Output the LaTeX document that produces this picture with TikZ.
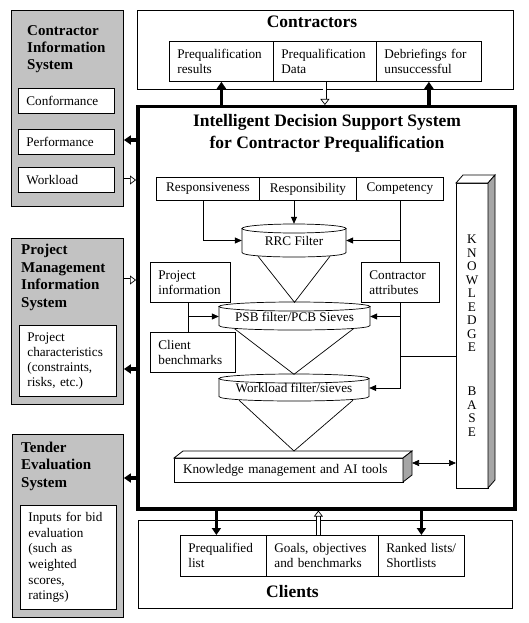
\documentclass[tikz,border=0pt]{standalone}
\usepackage{fontspec}
\setmainfont{Liberation Serif}
\usetikzlibrary{arrows.meta,calc}
\newcommand\cylshape[5]{% cx rx top bottom ry
  \draw[thinln, fill=white] (#1-#2, #3+#5) -- (#1-#2, #4-#5) .. controls (#1-#2, #4+#5/3) and (#1+#2, #4+#5/3) .. (#1+#2, #4-#5) -- (#1+#2, #3+#5) -- cycle;
  \draw[thinln, fill=white] (#1, #3+#5) ellipse [x radius=#2pt, y radius=#5pt];
}
\begin{document}
\begin{tikzpicture}[x=1pt,y=-1pt,
  every node/.style={font=\fontsize{13.2}{15}\selectfont},
  thinln/.style={line width=0.7pt},
  box/.style={draw, line width=0.8pt, fill=white, inner xsep=8pt, inner ysep=0pt, align=left, anchor=north west},
  cbox/.style={draw, line width=0.8pt, fill=white, inner sep=0pt, align=center, anchor=north west},
  outerbox/.style={draw, line width=1pt, inner sep=0pt, anchor=north west},
  graybox/.style={draw, line width=0.9pt, fill=black!24, inner sep=0pt, anchor=north west},
  bigtitle/.style={font=\fontsize{17.5}{21}\selectfont\bfseries, inner sep=0pt},
  sidetitle/.style={font=\fontsize{15}{17.4}\selectfont\bfseries, align=left, anchor=base west, inner sep=0pt},
  cyltext/.style={inner sep=0pt, text height=9pt, text depth=0pt},
  kbl/.style={anchor=base, inner sep=0pt},
  arr/.style={thinln, -{Triangle[length=7pt,width=6pt]}},
  darr/.style={thinln, {Triangle[length=7pt,width=6pt]}-{Triangle[length=7pt,width=6pt]}},
  blackarr/.style={line width=3.5pt, -{Triangle[length=7pt,width=9pt]}},
  hollowarr/.style={double=white, double distance=3pt, line width=0.7pt, -{Triangle[open,length=6pt,width=9pt]}},
  face/.style={draw, line width=0.8pt, fill=white},
  shade/.style={draw, line width=0.8pt, fill=black!35}
]
\useasboundingbox (0,0) rectangle (528,623);

% ---------- Left gray systems ----------
\node[graybox, minimum width=112pt, minimum height=196pt] (cis) at (11,10) {};
\node[sidetitle] (cist) at (27,70) {Contractor\\Information\\System};
\node[box, minimum width=96pt, minimum height=25pt, text width=80pt] (cf) at (18,88) {Conformance};
\node[box, minimum width=96pt, minimum height=25pt, text width=80pt] (pf) at (18,129) {Performance};
\node[box, minimum width=96pt, minimum height=25pt, text width=80pt] (wk) at (18,167) {Workload};

\node[graybox, minimum width=112pt, minimum height=166pt] (pmis) at (11,238) {};
\node[sidetitle] (pmist) at (21,307) {Project\\Management\\Information\\System};
\node[box, minimum width=97pt, minimum height=71pt, text width=81pt] (pc) at (19,325) {Project\\characteristics\\(constraints,\\risks, etc.)};

\node[graybox, minimum width=111pt, minimum height=183pt] (tes) at (12,434) {};
\node[sidetitle] (test) at (21,487) {Tender\\Evaluation\\System};
\node[box, minimum width=96pt, minimum height=104pt, text width=80pt, font=\fontsize{13.2}{15.6}\selectfont] (ib) at (20,505) {Inputs for bid\\evaluation\\(such as\\weighted\\scores,\\ratings)};

% ---------- Contractors ----------
\node[outerbox, minimum width=376pt, minimum height=79pt] (ctr) at (137,10) {};
\node[bigtitle, anchor=base] (ctrt) at (312,28) {Contractors};
\node[box, minimum width=104pt, minimum height=40pt, text width=88pt] (pr) at (169,41) {Prequalification\\results};
\node[box, minimum width=103pt, minimum height=40pt, text width=87pt] (pd) at (273,41) {Prequalification\\Data};
\node[box, minimum width=105pt, minimum height=40pt, text width=89pt] (db) at (376,41) {Debriefings for\\unsuccessful};

% ---------- Clients ----------
\node[outerbox, minimum width=374pt, minimum height=88pt] (cl) at (138,520) {};
\node[box, minimum width=86pt, minimum height=41pt, text width=70pt] (pl) at (180,535) {Prequalified\\list};
\node[box, minimum width=112pt, minimum height=41pt, text width=96pt] (go) at (266,535) {Goals, objectives\\and benchmarks};
\node[box, minimum width=86pt, minimum height=41pt, text width=70pt, inner xsep=7pt] (rk) at (378,535) {Ranked lists/\\Shortlists};
\node[bigtitle, anchor=base west] (clt) at (266,597) {Clients};

% ---------- IDSS ----------
\node[draw, line width=3.5pt, inner sep=0pt, anchor=north west, minimum width=377pt, minimum height=402pt] (ids) at (136,105) {};
\node[bigtitle, anchor=base] (idst1) at (327,127) {Intelligent Decision Support System};
\node[bigtitle, anchor=base] (idst2) at (327,148) {for Contractor Prequalification};

\node[cbox, minimum width=103pt, minimum height=23pt] (rv) at (156,177) {Responsiveness};
\node[cbox, minimum width=97pt, minimum height=23pt] (rb) at (259,177) {Responsibility};
\node[cbox, minimum width=87pt, minimum height=23pt] (cp) at (356,177) {Competency};

\node[box, minimum width=80pt, minimum height=40pt, text width=64pt] (pi) at (150,262) {Project\\information};
\node[box, minimum width=85pt, minimum height=40pt, text width=69pt] (cb) at (150,332) {Client\\benchmarks};
\node[box, minimum width=78pt, minimum height=40pt, text width=62pt] (ca) at (361,262) {Contractor\\attributes};

% cylinders
\cylshape{294}{52}{224}{257}{4.5}
\node[cyltext, minimum width=104pt, minimum height=33pt] (rrc) at (294,240.5) {RRC Filter};
\cylshape{294.5}{75.5}{302}{330}{4.5}
\node[cyltext, minimum width=151pt, minimum height=28pt] (psb) at (294.5,316.5) {PSB filter/PCB Sieves};
\cylshape{294}{75}{374}{401}{4.5}
\node[cyltext, minimum width=150pt, minimum height=27pt] (wl) at (294,388) {Workload filter/sieves};

% Knowledge management box (3D)
\node[face, inner xsep=9pt, inner ysep=0pt, anchor=north west, outer sep=0pt, minimum width=229pt, minimum height=24pt, text width=211pt, align=left] (km) at (174,458) {Knowledge management and AI tools};
\draw[face] (km.north west) -- ++(9,-7) -- ++(229,0) -- (km.north east) -- cycle;
\draw[shade] (km.north east) -- ++(9,-7) -- ++(0,24) -- (km.south east) -- cycle;

% Knowledge base (3D)
\node[face, inner sep=0pt, anchor=north west, outer sep=0pt, minimum width=32pt, minimum height=305pt] (kb) at (456,183) {};
\draw[face] (kb.north west) -- ++(7,-8) -- ++(32,0) -- (kb.north east) -- cycle;
\draw[shade] (kb.north east) -- ++(7,-8) -- ++(0,305) -- (kb.south east) -- cycle;
\foreach \l [count=\i from 0] in {K,N,O,W,L,E,D,G,E}
  \node[kbl] (kbA\i) at (472,243.5+13.5*\i) {\l};
\foreach \l [count=\i from 0] in {B,A,S,E}
  \node[kbl] (kbB\i) at (472,395.5+13.5*\i) {\l};

% funnels
\draw[thinln] ($(rrc.south)+(-36,-1)$) -- (psb.north) -- ($(rrc.south)+(36,-1)$);
\draw[thinln] ($(psb.south)+(-60,-2)$) -- (wl.north) -- ($(psb.south)+(59,-2)$);
\coordinate (kmapex) at ($(km.north)+(5.5,-7)$);
\draw[thinln] ($(wl.south)+(-55,-1.5)$) -- (kmapex) -- ($(wl.south)+(59,-1.5)$);

% thin connectors
\draw[arr] (rb.south -| rrc.north) -- (rrc.north);
\draw[arr] ([xshift=-4.5pt]rv.south) |- (rrc.west);
\draw[arr] (cp.south |- rrc.east) -- (rrc.east);
\draw[thinln] (cp.south) -- (cp.south |- ca.north);
\draw[arr] (ca.south) |- (wl.east);
\draw[arr] (ca.south |- psb.east) -- (psb.east);
\coordinate (kbj) at (kb.west |- 0,356);
\draw[thinln] (ca.south |- kbj) -- (kbj);
\draw[thinln] ([xshift=-2pt]pi.south) -- ([xshift=-2pt]pi.south |- cb.north);
\draw[arr] ([xshift=-2pt]pi.south |- psb.west) -- (psb.west);
\coordinate (kmside) at ($(km.east)+(9,-7)$);
\draw[darr] (kmside) -- (kb.west |- kmside);

% thick / hollow arrows
\draw[blackarr] (ids.north -| pr.south) -- (pr.south);
\draw[hollowarr] (pd.south) -- (pd.south |- ids.north);
\draw[blackarr] (ids.north -| db.south) -- (db.south);

\draw[blackarr] ([xshift=-7pt]pl.north |- ids.south) -- ([xshift=-7pt]pl.north);
\draw[hollowarr] ([xshift=-4pt]go.north) -- ([xshift=-4pt]go.north |- ids.south);
\draw[blackarr] (ids.south -| rk.north) -- (rk.north);

\draw[blackarr] (ids.west |- 0,140) -- (cis.east |- 0,140);
\draw[hollowarr] (cis.east |- 0,180) -- (ids.west |- 0,180);
\draw[hollowarr] (pmis.east |- 0,280) -- (ids.west |- 0,280);
\draw[blackarr] (ids.west |- 0,369) -- (pmis.east |- 0,369);
\draw[blackarr] (ids.west |- 0,478) -- (tes.east |- 0,478);
\end{tikzpicture}
\end{document}
